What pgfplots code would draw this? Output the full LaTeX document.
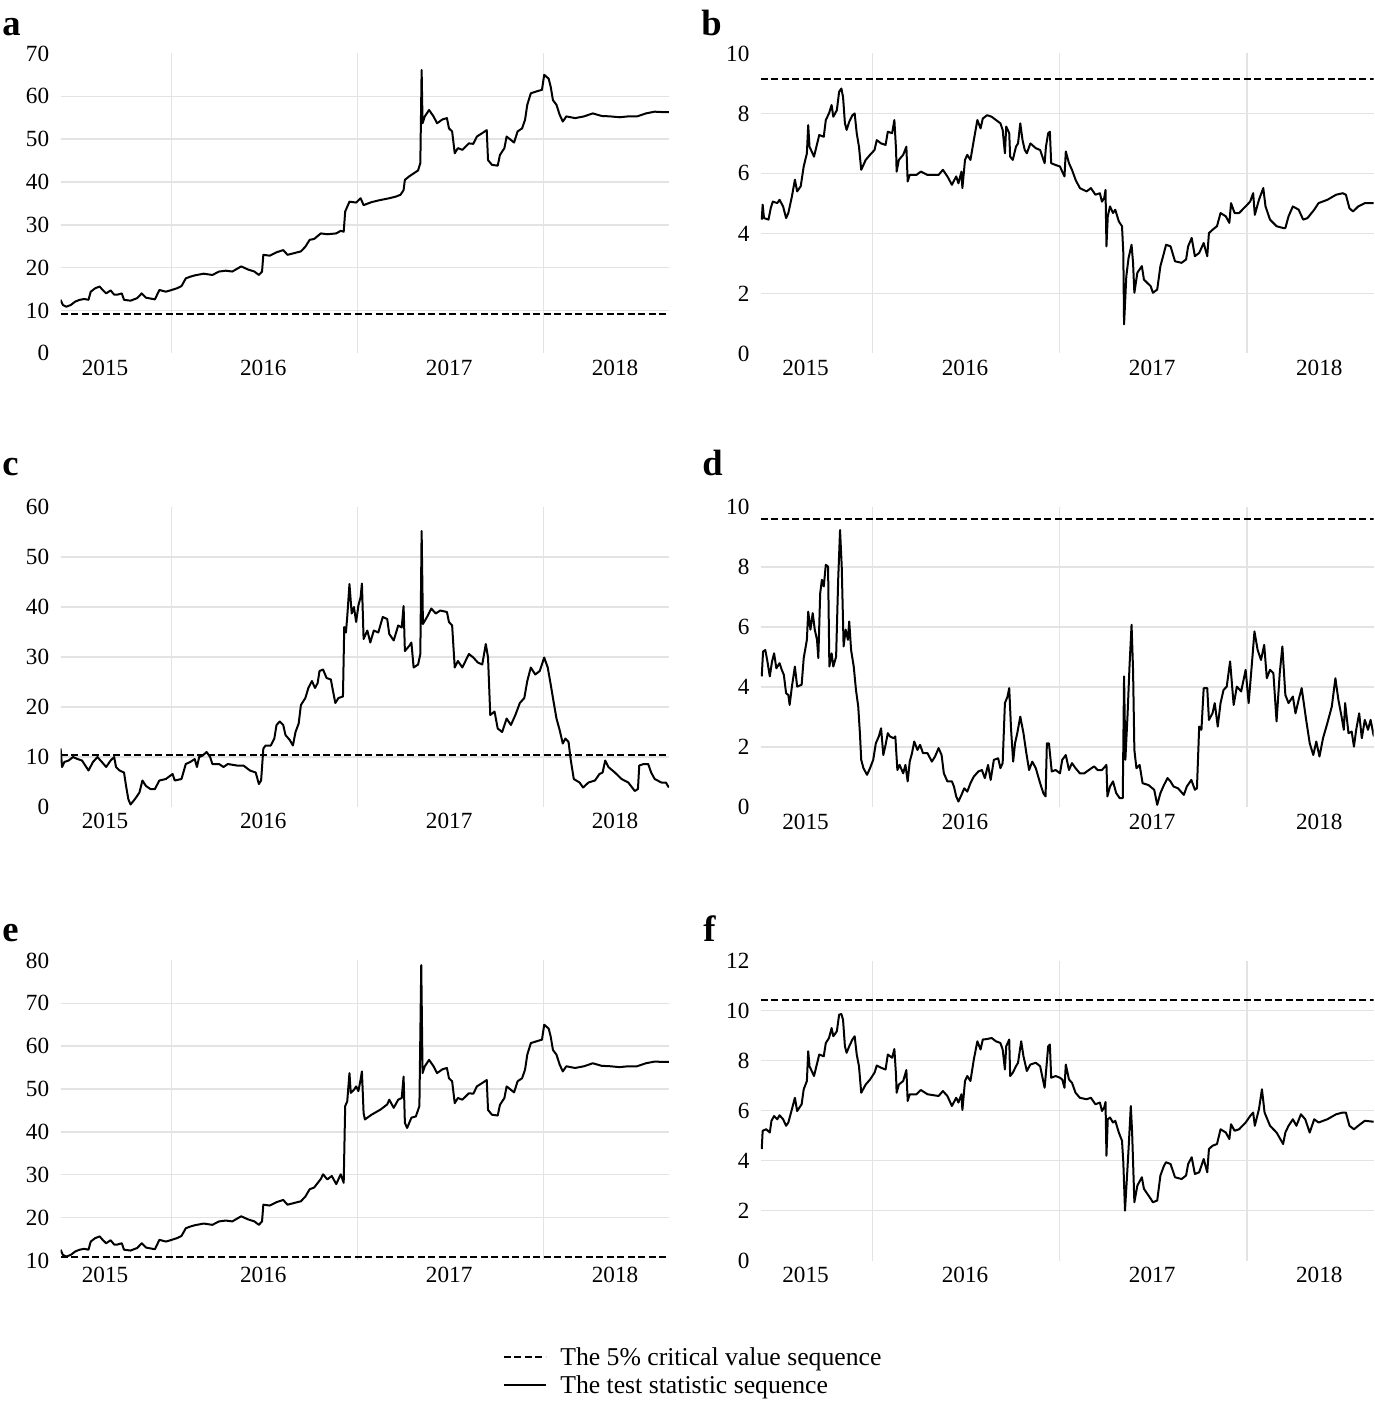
\documentclass[border=0pt]{standalone}
\usepackage{fontspec}
\setmainfont{Liberation Serif}
\usepackage{pgfplots}
\usepackage{pgfplotstable}
\pgfplotsset{compat=1.18}

\pgfplotstableread{
x y
2015.405 12.5
2015.417 11.3
2015.436 10.9
2015.460 11.3
2015.484 12.1
2015.508 12.5
2015.532 12.7
2015.555 12.5
2015.567 14.4
2015.591 15.2
2015.615 15.6
2015.631 14.8
2015.650 14.0
2015.674 14.7
2015.693 13.7
2015.710 13.7
2015.734 14.0
2015.746 12.5
2015.781 12.3
2015.817 12.9
2015.841 14.0
2015.864 13.0
2015.912 12.6
2015.936 14.8
2015.971 14.4
2015.995 14.7
2016.031 15.2
2016.055 15.7
2016.078 17.5
2016.102 17.9
2016.126 18.2
2016.174 18.6
2016.221 18.3
2016.257 19.1
2016.293 19.3
2016.328 19.1
2016.376 20.3
2016.411 19.6
2016.447 19.1
2016.471 18.3
2016.488 19.1
2016.495 23.0
2016.530 22.8
2016.566 23.6
2016.602 24.1
2016.625 23.0
2016.661 23.4
2016.697 23.8
2016.721 24.9
2016.744 26.5
2016.768 26.7
2016.804 28.0
2016.839 27.8
2016.887 28.0
2016.911 28.6
2016.927 28.4
2016.935 33.1
2016.958 35.4
2016.994 35.2
2017.018 36.2
2017.034 34.6
2017.077 35.3
2017.125 35.8
2017.172 36.2
2017.208 36.6
2017.232 37.0
2017.249 38.1
2017.256 40.5
2017.279 41.3
2017.303 42.0
2017.327 42.7
2017.339 44.4
2017.346 66.1
2017.351 53.7
2017.363 55.3
2017.386 56.8
2017.410 55.3
2017.429 53.7
2017.458 54.6
2017.482 54.9
2017.493 52.5
2017.510 51.8
2017.524 46.7
2017.541 47.9
2017.565 47.5
2017.600 49.0
2017.624 48.9
2017.643 50.6
2017.672 51.4
2017.696 52.1
2017.703 45.1
2017.724 44.0
2017.755 43.8
2017.767 46.3
2017.791 47.9
2017.803 50.6
2017.826 49.8
2017.843 49.2
2017.862 51.8
2017.886 52.5
2017.902 54.5
2017.914 58.0
2017.933 60.7
2017.969 61.2
2017.993 61.5
2018.005 65.0
2018.029 64.1
2018.040 62.2
2018.052 59.1
2018.071 58.0
2018.088 55.7
2018.105 54.1
2018.124 55.3
2018.171 54.9
2018.219 55.3
2018.266 56.0
2018.314 55.4
2018.361 55.3
2018.409 55.1
2018.457 55.3
2018.504 55.3
2018.552 56.0
2018.599 56.4
2018.647 56.3
2018.675 56.3
}\dataA

\pgfplotstableread{
x y
2015.410 4.46
2015.415 4.96
2015.422 4.51
2015.446 4.46
2015.458 4.84
2015.469 5.06
2015.493 5.01
2015.505 5.12
2015.524 4.90
2015.540 4.51
2015.552 4.68
2015.571 5.23
2015.587 5.79
2015.599 5.40
2015.618 5.57
2015.634 6.23
2015.651 6.67
2015.658 7.61
2015.665 6.89
2015.689 6.56
2015.717 7.28
2015.741 7.22
2015.752 7.78
2015.769 8.00
2015.783 8.28
2015.792 7.89
2015.811 8.11
2015.823 8.72
2015.835 8.83
2015.844 8.55
2015.854 7.67
2015.863 7.45
2015.877 7.72
2015.894 7.94
2015.906 8.00
2015.917 7.34
2015.929 6.89
2015.941 6.12
2015.965 6.45
2015.988 6.62
2016.012 6.78
2016.024 7.11
2016.047 7.00
2016.071 6.95
2016.083 7.39
2016.106 7.34
2016.118 7.78
2016.127 6.78
2016.130 6.06
2016.142 6.45
2016.165 6.62
2016.182 6.89
2016.189 5.73
2016.200 5.95
2016.236 5.95
2016.259 6.06
2016.295 5.95
2016.354 5.95
2016.377 6.12
2016.401 5.90
2016.425 5.62
2016.448 5.90
2016.460 5.67
2016.476 6.06
2016.481 5.51
2016.495 6.45
2016.507 6.62
2016.524 6.45
2016.542 7.11
2016.561 7.78
2016.578 7.50
2016.590 7.83
2016.613 7.94
2016.637 7.89
2016.660 7.78
2016.684 7.67
2016.696 7.45
2016.708 6.67
2016.715 7.56
2016.731 7.34
2016.736 6.56
2016.750 6.45
2016.767 6.89
2016.778 7.00
2016.790 7.67
2016.802 7.11
2016.814 6.78
2016.825 6.67
2016.844 7.00
2016.873 6.84
2016.896 6.78
2016.920 6.34
2016.927 6.89
2016.939 7.34
2016.948 7.39
2016.955 6.34
2016.979 6.28
2017.002 6.23
2017.014 6.06
2017.026 5.90
2017.033 6.73
2017.050 6.34
2017.066 6.12
2017.085 5.79
2017.108 5.51
2017.144 5.40
2017.167 5.51
2017.191 5.29
2017.215 5.34
2017.226 5.06
2017.238 5.18
2017.245 5.45
2017.250 3.57
2017.257 4.57
2017.269 4.90
2017.285 4.68
2017.297 4.79
2017.316 4.40
2017.333 4.24
2017.340 3.35
2017.344 0.97
2017.356 2.57
2017.368 3.18
2017.384 3.62
2017.392 3.02
2017.399 2.02
2017.415 2.69
2017.439 2.91
2017.450 2.46
2017.486 2.24
2017.498 2.02
2017.521 2.13
2017.538 2.91
2017.557 3.35
2017.568 3.62
2017.592 3.57
2017.616 3.07
2017.651 3.02
2017.675 3.13
2017.686 3.57
2017.705 3.85
2017.722 3.24
2017.745 3.35
2017.769 3.68
2017.788 3.24
2017.797 4.01
2017.816 4.12
2017.840 4.24
2017.859 4.68
2017.887 4.57
2017.906 4.35
2017.915 5.01
2017.934 4.68
2017.958 4.68
2017.993 4.90
2018.017 5.06
2018.033 5.34
2018.042 4.62
2018.064 5.12
2018.087 5.51
2018.099 4.90
2018.123 4.46
2018.158 4.24
2018.193 4.18
2018.205 4.18
2018.222 4.57
2018.245 4.90
2018.276 4.79
2018.300 4.46
2018.323 4.51
2018.359 4.79
2018.382 5.01
2018.429 5.12
2018.476 5.29
2018.512 5.34
2018.528 5.29
2018.547 4.84
2018.566 4.73
2018.594 4.90
2018.629 5.01
2018.677 5.01
}\dataB

\pgfplotstableread{
x y
2015.405 11.7
2015.413 8.0
2015.425 9.0
2015.448 9.3
2015.472 10.0
2015.496 9.6
2015.520 9.3
2015.543 8.0
2015.555 7.3
2015.579 9.0
2015.603 10.0
2015.627 9.0
2015.650 8.0
2015.674 9.3
2015.693 10.0
2015.703 8.0
2015.722 7.3
2015.746 6.9
2015.757 4.2
2015.769 1.6
2015.781 0.5
2015.805 1.6
2015.829 2.9
2015.845 5.3
2015.864 4.2
2015.888 3.6
2015.912 3.6
2015.936 5.3
2015.971 5.6
2016.007 6.6
2016.019 5.3
2016.055 5.6
2016.078 8.6
2016.102 9.0
2016.126 9.6
2016.138 8.0
2016.150 10.0
2016.169 10.3
2016.190 11.0
2016.209 10.0
2016.221 8.6
2016.257 8.6
2016.281 8.0
2016.304 8.6
2016.352 8.3
2016.388 8.3
2016.423 7.3
2016.454 6.9
2016.471 4.6
2016.483 5.3
2016.495 11.7
2016.507 12.3
2016.535 12.3
2016.554 13.7
2016.566 16.4
2016.583 17.1
2016.602 16.4
2016.614 14.4
2016.637 13.4
2016.654 12.3
2016.668 15.0
2016.685 16.7
2016.697 20.4
2016.721 21.8
2016.737 23.8
2016.756 25.2
2016.773 23.8
2016.787 24.8
2016.797 27.2
2016.816 27.5
2016.835 25.8
2016.858 25.5
2016.868 23.5
2016.882 20.8
2016.899 21.8
2016.923 22.1
2016.930 36.0
2016.939 34.9
2016.946 38.0
2016.958 44.6
2016.970 38.7
2016.982 40.0
2016.994 37.0
2017.006 40.3
2017.018 42.0
2017.025 44.7
2017.034 33.6
2017.054 35.3
2017.070 32.9
2017.089 35.3
2017.113 34.9
2017.137 38.0
2017.161 37.6
2017.172 34.6
2017.196 33.3
2017.220 36.3
2017.239 35.9
2017.249 40.2
2017.256 31.2
2017.279 32.2
2017.291 32.9
2017.303 27.9
2017.327 28.5
2017.339 30.6
2017.346 55.2
2017.353 36.6
2017.375 38.0
2017.398 39.7
2017.422 38.7
2017.446 39.3
2017.482 39.0
2017.493 37.0
2017.510 36.3
2017.524 27.9
2017.541 29.2
2017.565 27.9
2017.600 30.6
2017.624 29.9
2017.648 28.9
2017.672 28.5
2017.691 32.6
2017.703 29.9
2017.715 18.4
2017.738 19.1
2017.755 15.7
2017.779 15.0
2017.803 17.7
2017.826 16.4
2017.850 18.4
2017.874 20.8
2017.898 21.8
2017.914 25.2
2017.933 27.9
2017.957 26.5
2017.981 27.2
2018.005 29.9
2018.024 27.9
2018.040 24.5
2018.052 21.8
2018.071 17.7
2018.088 15.4
2018.105 12.7
2018.119 13.7
2018.136 13.0
2018.147 9.6
2018.164 5.6
2018.195 4.9
2018.214 3.9
2018.243 4.9
2018.278 5.3
2018.302 6.6
2018.319 6.9
2018.333 9.3
2018.350 8.0
2018.385 6.9
2018.421 5.6
2018.457 4.9
2018.492 3.2
2018.509 3.6
2018.516 8.3
2018.540 8.6
2018.564 8.6
2018.580 6.9
2018.599 5.6
2018.635 4.9
2018.659 4.9
2018.675 3.9
}\dataC

\pgfplotstableread{
x y
2015.410 4.36
2015.417 5.19
2015.429 5.24
2015.439 4.91
2015.453 4.36
2015.465 4.86
2015.476 5.13
2015.488 4.63
2015.505 4.80
2015.517 4.58
2015.528 4.41
2015.540 3.80
2015.552 3.74
2015.559 3.41
2015.571 4.02
2015.587 4.69
2015.599 4.02
2015.623 4.08
2015.634 4.97
2015.651 5.58
2015.658 6.52
2015.670 5.92
2015.682 6.47
2015.693 5.92
2015.705 5.58
2015.712 4.97
2015.722 7.13
2015.731 7.58
2015.741 7.36
2015.752 8.08
2015.764 8.02
2015.771 4.69
2015.783 5.13
2015.792 4.69
2015.807 5.02
2015.818 7.58
2015.828 9.24
2015.837 8.02
2015.847 5.36
2015.858 5.92
2015.870 5.58
2015.877 6.19
2015.887 5.24
2015.901 4.69
2015.913 3.91
2015.925 3.36
2015.934 2.47
2015.941 1.58
2015.953 1.30
2015.972 1.08
2015.988 1.30
2016.005 1.58
2016.019 2.13
2016.035 2.36
2016.047 2.63
2016.059 1.74
2016.071 2.08
2016.083 2.47
2016.094 2.36
2016.113 2.30
2016.123 2.36
2016.134 1.24
2016.146 1.41
2016.165 1.13
2016.177 1.41
2016.189 0.86
2016.200 1.52
2016.212 1.80
2016.224 2.19
2016.241 1.91
2016.255 2.08
2016.271 1.80
2016.295 1.80
2016.318 1.52
2016.335 1.69
2016.354 1.97
2016.370 1.74
2016.382 1.13
2016.401 0.86
2016.425 0.86
2016.436 0.69
2016.448 0.36
2016.460 0.19
2016.476 0.41
2016.491 0.63
2016.507 0.52
2016.524 0.80
2016.542 1.02
2016.566 1.19
2016.585 1.24
2016.601 0.97
2016.618 1.41
2016.632 0.91
2016.649 1.58
2016.672 1.63
2016.684 1.30
2016.696 1.47
2016.708 3.47
2016.722 3.69
2016.731 3.97
2016.741 2.58
2016.752 1.52
2016.762 2.13
2016.774 2.47
2016.790 3.02
2016.807 2.47
2016.821 1.86
2016.837 1.24
2016.854 1.52
2016.873 1.30
2016.896 0.80
2016.913 0.47
2016.925 0.36
2016.932 2.13
2016.943 2.13
2016.958 1.19
2016.979 1.24
2017.002 1.13
2017.014 1.58
2017.033 1.74
2017.050 1.24
2017.066 1.47
2017.085 1.30
2017.108 1.13
2017.132 1.13
2017.156 1.24
2017.184 1.36
2017.203 1.24
2017.226 1.24
2017.250 1.41
2017.255 0.36
2017.269 0.69
2017.285 0.86
2017.302 0.47
2017.321 0.30
2017.337 0.30
2017.344 4.36
2017.351 1.58
2017.363 3.13
2017.373 4.69
2017.384 6.08
2017.392 4.58
2017.399 1.91
2017.410 1.30
2017.427 1.41
2017.443 0.80
2017.474 0.74
2017.505 0.58
2017.521 0.08
2017.538 0.47
2017.557 0.74
2017.576 0.97
2017.592 0.86
2017.608 0.69
2017.632 0.63
2017.663 0.41
2017.679 0.69
2017.703 0.91
2017.722 0.58
2017.733 0.63
2017.745 2.69
2017.757 2.58
2017.769 3.97
2017.788 3.97
2017.797 2.91
2017.816 3.13
2017.828 3.47
2017.844 2.69
2017.859 3.47
2017.875 3.91
2017.892 4.02
2017.910 4.86
2017.929 3.41
2017.946 4.02
2017.969 3.86
2017.993 4.58
2018.009 3.47
2018.028 4.91
2018.040 5.86
2018.057 5.24
2018.075 4.91
2018.092 5.41
2018.106 4.30
2018.123 4.58
2018.141 4.47
2018.158 2.86
2018.175 4.47
2018.189 5.36
2018.205 3.74
2018.222 3.47
2018.245 3.69
2018.259 3.13
2018.276 3.58
2018.292 3.97
2018.316 2.91
2018.335 2.13
2018.354 1.74
2018.370 2.19
2018.387 1.69
2018.406 2.30
2018.429 2.80
2018.453 3.36
2018.472 4.30
2018.488 3.58
2018.505 3.02
2018.517 2.58
2018.524 3.47
2018.542 2.47
2018.559 2.52
2018.571 2.02
2018.583 2.58
2018.599 3.13
2018.613 2.30
2018.629 2.91
2018.646 2.58
2018.660 2.91
2018.677 2.36
}\dataD

\pgfplotstableread{
x y
2015.405 12.5
2015.417 11.3
2015.436 10.9
2015.460 11.3
2015.484 12.1
2015.508 12.5
2015.532 12.7
2015.555 12.5
2015.567 14.4
2015.591 15.2
2015.615 15.6
2015.631 14.8
2015.650 14.0
2015.674 14.7
2015.693 13.7
2015.710 13.7
2015.734 14.0
2015.746 12.5
2015.781 12.3
2015.817 12.9
2015.841 14.0
2015.864 13.0
2015.912 12.6
2015.936 14.8
2015.971 14.4
2015.995 14.7
2016.031 15.2
2016.055 15.7
2016.078 17.5
2016.102 17.9
2016.126 18.2
2016.174 18.6
2016.221 18.3
2016.257 19.1
2016.293 19.3
2016.328 19.1
2016.376 20.3
2016.411 19.6
2016.447 19.1
2016.471 18.3
2016.488 19.1
2016.495 23.0
2016.530 22.8
2016.566 23.6
2016.602 24.1
2016.625 23.0
2016.661 23.4
2016.697 23.8
2016.721 24.9
2016.744 26.6
2016.768 27.0
2016.804 29.0
2016.816 30.1
2016.839 28.9
2016.863 29.7
2016.887 27.8
2016.911 30.1
2016.927 28.1
2016.935 46.0
2016.946 47.1
2016.958 53.7
2016.965 49.1
2016.982 49.8
2016.994 50.6
2017.006 49.5
2017.018 52.2
2017.025 54.1
2017.034 44.4
2017.041 42.9
2017.077 44.0
2017.125 45.2
2017.161 46.4
2017.172 47.5
2017.196 45.6
2017.220 47.5
2017.239 47.9
2017.249 52.9
2017.256 42.1
2017.268 40.9
2017.291 43.3
2017.315 43.6
2017.334 46.0
2017.344 78.9
2017.351 53.7
2017.363 55.3
2017.386 56.8
2017.410 55.3
2017.429 53.7
2017.458 54.6
2017.482 54.9
2017.493 52.5
2017.510 51.8
2017.524 46.7
2017.541 47.9
2017.565 47.5
2017.600 49.0
2017.624 48.9
2017.643 50.6
2017.672 51.4
2017.696 52.1
2017.703 45.1
2017.724 44.0
2017.755 43.8
2017.767 46.3
2017.791 47.9
2017.803 50.6
2017.826 49.8
2017.843 49.2
2017.862 51.8
2017.886 52.5
2017.902 54.5
2017.914 58.0
2017.933 60.7
2017.969 61.2
2017.993 61.5
2018.005 65.0
2018.029 64.1
2018.040 62.2
2018.052 59.1
2018.071 58.0
2018.088 55.7
2018.105 54.1
2018.124 55.3
2018.171 54.9
2018.219 55.3
2018.266 56.0
2018.314 55.4
2018.361 55.3
2018.409 55.1
2018.457 55.3
2018.504 55.3
2018.552 56.0
2018.599 56.4
2018.647 56.3
2018.675 56.3
}\dataE

\pgfplotstableread{
x y
2015.410 4.46
2015.415 5.19
2015.434 5.25
2015.453 5.12
2015.462 5.59
2015.476 5.78
2015.493 5.65
2015.505 5.81
2015.524 5.65
2015.540 5.39
2015.552 5.52
2015.571 6.05
2015.587 6.51
2015.599 5.98
2015.623 6.25
2015.634 6.85
2015.651 7.18
2015.658 8.37
2015.665 7.77
2015.689 7.38
2015.717 8.24
2015.741 8.17
2015.752 8.70
2015.769 8.90
2015.783 9.30
2015.792 8.97
2015.811 9.17
2015.823 9.83
2015.835 9.86
2015.844 9.63
2015.854 8.57
2015.863 8.31
2015.877 8.57
2015.894 8.84
2015.906 8.97
2015.917 8.24
2015.929 7.77
2015.941 6.71
2015.965 7.04
2015.988 7.24
2016.012 7.51
2016.024 7.80
2016.047 7.71
2016.071 7.64
2016.083 8.24
2016.106 8.11
2016.118 8.46
2016.127 7.38
2016.130 6.71
2016.142 7.04
2016.165 7.18
2016.182 7.62
2016.189 6.38
2016.200 6.65
2016.236 6.65
2016.259 6.82
2016.295 6.65
2016.354 6.58
2016.377 6.78
2016.401 6.58
2016.425 6.18
2016.448 6.51
2016.460 6.32
2016.476 6.65
2016.481 6.02
2016.495 7.18
2016.507 7.38
2016.524 7.18
2016.542 8.04
2016.561 8.77
2016.578 8.44
2016.590 8.84
2016.613 8.86
2016.637 8.90
2016.660 8.77
2016.684 8.70
2016.696 8.44
2016.708 7.64
2016.715 8.57
2016.731 8.84
2016.736 7.38
2016.750 7.51
2016.767 7.77
2016.778 7.91
2016.795 8.77
2016.807 8.17
2016.825 7.58
2016.844 7.84
2016.873 7.91
2016.896 7.77
2016.920 6.91
2016.927 7.51
2016.939 8.57
2016.948 8.64
2016.955 7.31
2016.979 7.38
2017.002 7.31
2017.014 7.24
2017.026 6.91
2017.033 7.84
2017.050 7.24
2017.066 7.11
2017.085 6.71
2017.108 6.51
2017.144 6.45
2017.167 6.51
2017.191 6.25
2017.215 6.32
2017.226 5.98
2017.238 6.12
2017.245 6.34
2017.250 4.19
2017.257 5.65
2017.269 5.72
2017.285 5.52
2017.297 5.59
2017.316 5.12
2017.333 4.79
2017.340 3.93
2017.349 2.00
2017.361 3.53
2017.368 4.46
2017.380 6.18
2017.387 5.12
2017.399 2.33
2017.415 3.00
2017.439 3.33
2017.450 2.87
2017.486 2.47
2017.498 2.33
2017.521 2.40
2017.538 3.40
2017.557 3.79
2017.568 3.93
2017.592 3.86
2017.616 3.33
2017.651 3.26
2017.675 3.40
2017.686 3.86
2017.705 4.13
2017.722 3.46
2017.745 3.53
2017.769 4.06
2017.788 3.53
2017.797 4.46
2017.816 4.59
2017.840 4.66
2017.859 5.25
2017.887 5.12
2017.906 4.86
2017.915 5.45
2017.934 5.19
2017.958 5.25
2017.993 5.52
2018.017 5.78
2018.033 5.92
2018.042 5.39
2018.064 6.05
2018.080 6.85
2018.094 5.92
2018.123 5.39
2018.158 5.12
2018.193 4.66
2018.205 5.12
2018.222 5.39
2018.245 5.65
2018.264 5.39
2018.288 5.85
2018.311 5.65
2018.335 5.12
2018.359 5.65
2018.382 5.52
2018.429 5.65
2018.476 5.85
2018.512 5.92
2018.528 5.92
2018.547 5.39
2018.571 5.25
2018.594 5.39
2018.629 5.59
2018.677 5.55
}\dataF

\pgfplotsset{
  panel/.style={
    scale only axis,
    height=150pt,
    xmin=2015.405, xmax=2018.676,
    axis lines*=left,
    axis line style={draw=none},
    tick style={draw=none},
    major tick length=0pt, minor tick length=0pt,
    xtick={2015.644,2016.495,2017.494,2018.386},
    xticklabels={2015,2016,2017,2018},
    minor xtick={2016,2017,2018},
    xminorgrids=true, yminorgrids=true,
    xmajorgrids=false, ymajorgrids=false,
    minor grid style={draw=black!11, line width=0.75pt},
    ticklabel style={font=\fontsize{11.6}{13}\selectfont, text=black},
    xticklabel style={inner sep=0pt, anchor=north, yshift=-3pt},
    yticklabel style={inner sep=0pt, anchor=east, xshift=-5.5pt},
    anchor=north west,
  },
  leftpanel/.style={panel, width=304.2pt},
  rightpanel/.style={panel, width=306.4pt},
  stat/.style={black, line width=1pt, line join=round},
  crit/.style={black, line width=1pt, dash pattern=on 3.5pt off 1.75pt},
}

\begin{document}
\begin{tikzpicture}
\path[use as bounding box] (0,0) rectangle (687.5pt,-702pt);

\tikzset{panellabel/.style={anchor=base west, inner sep=0pt, font=\fontsize{18.3}{20}\selectfont\bfseries}}
\node[panellabel] at (1pt,-17.5pt) {a};
\node[panellabel] at (350.5pt,-17.5pt) {b};
\node[panellabel] at (1pt,-237.5pt) {c};
\node[panellabel] at (351pt,-237.5pt) {d};
\node[panellabel] at (1pt,-470.8pt) {e};
\node[panellabel] at (351.5pt,-470.8pt) {f};

% a
\begin{axis}[leftpanel, at={(30.3pt,-26.7pt)},
  ymin=0, ymax=70, ytick={0,10,...,70}, yticklabels={0,10,20,30,40,50,60,70},
  minor ytick={10,20,...,60}]
\addplot[stat] table {\dataA};
\addplot[crit] coordinates {(2015.405,9.1) (2018.676,9.1)};
\end{axis}

% b
\begin{axis}[rightpanel, at={(380.4pt,-26.7pt)},
  ymin=0, ymax=10, ytick={0,2,...,10}, yticklabels={0,2,4,6,8,10},
  minor ytick={2,4,6,8}]
\addplot[stat] table {\dataB};
\addplot[crit] coordinates {(2015.405,9.15) (2018.676,9.15)};
\end{axis}

% c
\begin{axis}[leftpanel, at={(30.3pt,-253.5pt)},
  ymin=0, ymax=60, ytick={0,10,...,60}, yticklabels={0,10,20,30,40,50,60},
  minor ytick={10,20,...,50}]
\addplot[stat] table {\dataC};
\addplot[crit] coordinates {(2015.405,10.5) (2018.676,10.5)};
\end{axis}

% d
\begin{axis}[rightpanel, at={(380.4pt,-253.6pt)},
  ymin=0, ymax=10, ytick={0,2,...,10}, yticklabels={0,2,4,6,8,10},
  minor ytick={2,4,6,8}]
\addplot[stat] table {\dataD};
\addplot[crit] coordinates {(2015.405,9.6) (2018.676,9.6)};
\end{axis}

% e
\begin{axis}[leftpanel, at={(30.3pt,-480.2pt)},
  ymin=10, ymax=80, ytick={10,20,...,80}, yticklabels={10,20,30,40,50,60,70,80},
  minor ytick={20,30,...,70}]
\addplot[stat] table {\dataE};
\addplot[crit] coordinates {(2015.405,10.8) (2018.676,10.8)};
\end{axis}

% f
\begin{axis}[rightpanel, at={(380.4pt,-480.25pt)},
  ymin=0, ymax=12, ytick={0,2,...,12}, yticklabels={0,2,4,6,8,10,12},
  minor ytick={2,4,...,10}]
\addplot[stat] table {\dataF};
\addplot[crit] coordinates {(2015.405,10.42) (2018.676,10.42)};
\end{axis}

% legend
\begin{axis}[hide axis, scale only axis, width=10pt, height=10pt,
  xmin=0, xmax=1, ymin=0, ymax=1,
  at={(251.4pt,-671.65pt)}, anchor=north west,
  legend cell align=left,
  legend image code/.code={\draw[#1] (0pt,0pt) -- (21pt,0pt);},
  legend style={at={(0,1)}, anchor=north west, draw=none, fill=none,
    inner sep=0pt, outer sep=0pt, row sep=0.7pt, column sep=6.25pt,
    nodes={inner sep=0.5pt, text height=10.4pt, text depth=2pt,
      font=\fontsize{12.85}{14}\selectfont}}]
\addlegendimage{crit}
\addlegendentry{The 5\% critical value sequence}
\addlegendimage{stat}
\addlegendentry{The test statistic sequence}
\end{axis}
\end{tikzpicture}
\end{document}
